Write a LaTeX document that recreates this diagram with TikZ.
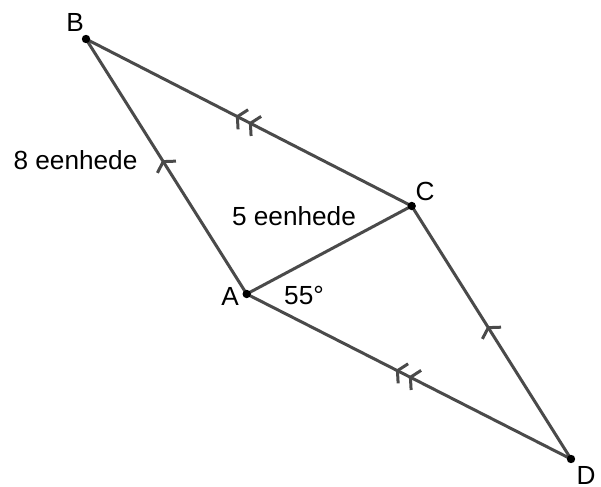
\documentclass[tikz,border=0pt]{standalone}
\usepackage{fontspec}
\setmainfont{Liberation Sans}
\usetikzlibrary{arrows.meta,decorations.markings}
\definecolor{edgeCol}{HTML}{4A4A4A}
\tikzset{
  side/.style={draw=edgeCol, line width=1.5pt},
  pt/.style={circle, fill=black, inner sep=0pt, minimum size=4.2pt},
  lbl/.style={font=\fontsize{13.1}{15}\selectfont, inner sep=0pt},
  chev/.tip={Straight Barb[length=3.2pt, width=11pt]},
  par1/.style={postaction={decorate}, decoration={markings,
      mark=at position #1 with {\arrow[edgeCol, line width=1.5pt]{chev}}}},
  par2/.style={postaction={decorate}, decoration={markings,
      mark=at position #1 with {\arrow[edgeCol, line width=1.5pt]{chev}},
      mark=at position #1+0.04 with {\arrow[edgeCol, line width=1.5pt]{chev}}}},
}
\begin{document}
\begin{tikzpicture}[x=0.5pt, y=-0.5pt]
  \useasboundingbox (0,0) rectangle (601,487);
  % corners of the parallelogram
  \coordinate (A) at (246.7,294);
  \coordinate (B) at (86,39);
  \coordinate (C) at (411.7,206);
  \coordinate (D) at (571,459);

  \draw[side, par1=0.525] (A) -- (B);
  \draw[side, par2=0.50] (C) -- (B);
  \draw[side, par2=0.50] (D) -- (A);
  \draw[side, par1=0.525] (D) -- (C);
  \draw[side] (A) -- (C);

  \foreach \p in {A,B,C,D}{\node[pt] (d\p) at (\p) {};}

  \node[lbl] (lA) at (230,296) {A};
  \node[lbl] (lB) at (75,22) {B};
  \node[lbl] (lC) at (425,191) {C};
  \node[lbl] (lD) at (586,475) {D};
  \node[lbl] (ab) at (75.5,160) {8 eenhede};
  \node[lbl] (ac) at (294,216) {5 eenhede};
  \node[lbl] (ang) at (304,295) {55°};
\end{tikzpicture}
\end{document}
